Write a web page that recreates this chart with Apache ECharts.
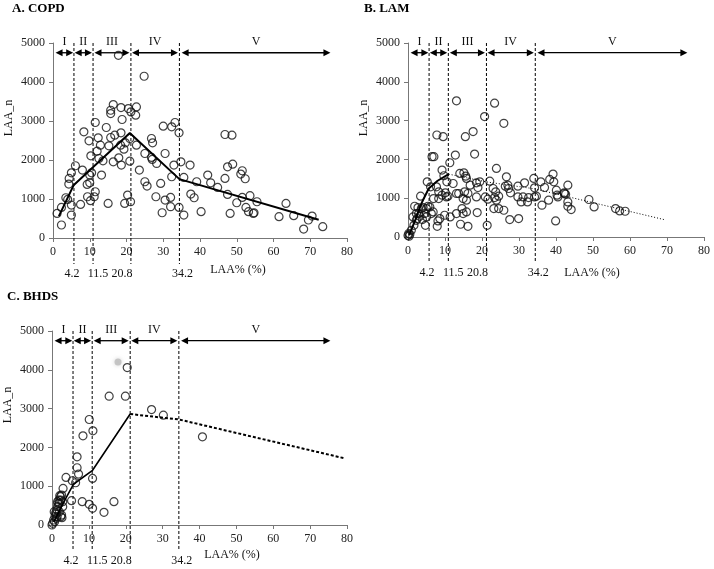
<!DOCTYPE html>
<html><head><meta charset="utf-8">
<script src="https://cdn.jsdelivr.net/npm/echarts@6/dist/echarts.min.js"></script>
<style>html,body{margin:0;padding:0;background:#fff}#c{width:714px;height:569px}</style>
</head><body><div id="c"></div>
<script>
// ---------- data ----------
const panelTitles = ['A. COPD', 'B. LAM', 'C. BHDS'];
const xTickMax = 80, xTickStep = 10;
const yTickMax = 5000, yTickStep = 1000;
const xAxisTitle = 'LAA% (%)';
const yAxisTitle = 'LAA_n';

const cutLineX = [5.7, 10.9, 21.2, 34.4];
const cutLabels = ['4.2', '11.5', '20.8', '34.2'];
const zoneNames = ['I', 'II', 'III', 'IV', 'V'];
const zoneStart = [0.7, 5.9, 11.3, 21.5, 35.0];
const zoneEnd = [5.5, 10.6, 20.8, 34.0, 75.5];
const zoneArrowY = 4750;

const copdPoints = [
 [1.1,631],[2.3,785],[2.3,333],[3.5,1032],[4.0,990],[4.3,1382],[4.4,1527],[5.0,1672],[5.0,845],[5.0,589],
 [6.1,1852],[7.5,862],[8.0,1741],[8.4,2722],[9.3,1374],[9.4,1058],[9.8,2491],[10.0,1416],[10.0,1613],[10.3,2108],
 [10.2,956],[10.5,1672],[11.2,1058],[11.5,1186],[11.5,2961],[12.0,2227],[12.3,2568],[12.5,2039],[12.9,2381],[13.2,1613],
 [13.6,1980],[14.5,2833],[15.0,887],[15.2,2364],[15.7,3276],[15.7,3191],[15.7,2577],[16.4,1954],[16.4,3422],[16.8,2637],
 [17.8,4684],[17.9,2056],[18.4,2381],[18.5,2696],[18.5,3345],[18.6,1869],[18.8,3038],[19.3,2278],[19.5,887],[19.7,2440],
 [20.3,1101],[20.5,3319],[20.9,2551],[20.9,1971],[21.1,930],[21.2,3234],[22.5,3149],[22.7,3362],[22.7,2381],[23.5,1741],
 [24.8,4147],[25.0,2167],[25.0,1442],[25.6,1331],[26.8,2551],[27.1,2440],[26.8,2065],[27.0,2014],[28.0,1058],[28.2,1911],
 [29.3,1399],[29.7,648],[30.0,2867],[30.5,2167],[30.5,973],[32.0,1041],[32.3,2850],[32.3,1570],[32.9,1869],[33.2,2961],
 [32.0,802],[34.3,2696],[34.3,785],[34.8,1954],[35.6,1553],[35.6,589],[37.3,1869],[37.5,1126],[38.4,1032],[39.1,1442],
 [40.3,674],[42.1,1613],[42.9,1416],[44.8,1297],[46.8,1527],[46.8,2654],[47.5,1826],[47.5,1118],[48.2,631],[48.7,2637],
 [48.9,1894],[50.0,904],[51.1,1638],[51.5,1724],[51.5,1041],[52.3,1519],[52.5,785],[53.2,674],[53.6,1084],[54.5,631],
 [54.7,648],[55.5,930],[61.5,546],[63.4,887],[65.5,572],[68.2,230],[69.5,461],[70.5,563],[73.4,290]
];
const copdFit = [[1.6,560],[5.6,1350],[20.9,2690],[34.4,1510],[72.3,470]];

const lamPoints = [
 [0,40],[0.3,20],[0.5,70],[0.2,90],[0.9,172],[1.35,517],[1.6,302],[1.8,793],[2.25,431],[2.25,603],[2.5,474],[2.7,759],
 [2.9,603],[3.2,534],[3.4,1052],[3.6,733],[3.9,448],[4.1,759],[4.5,603],[4.7,302],[5.0,517],[5.0,733],[5.2,1422],
 [5.4,793],[5.9,776],[6.1,1293],[6.3,603],[6.5,2069],[7.0,2069],[6.8,647],[6.9,991],[7.7,1293],[7.8,2629],[7.9,276],
 [8.1,414],[8.3,1164],[8.3,991],[8.6,474],[9.2,1724],[9.2,1078],[9.5,2586],[9.7,1578],[9.9,560],[10.1,1138],[10.4,1034],
 [10.5,1422],[10.8,1052],[11.3,1914],[11.4,517],[12.2,1379],[12.8,2112],[13.1,3509],[13.1,1121],[13.1,603],[13.7,1121],
 [14.0,1638],[14.2,328],[14.6,733],[14.9,603],[14.9,991],[15.1,1655],[15.3,1164],[15.5,2586],[15.6,1569],[15.8,1509],
 [15.8,647],[15.8,948],[16.2,276],[16.2,1121],[16.8,1336],[17.6,2716],[18.0,2138],[18.5,1397],[18.5,1034],[18.7,629],
 [18.9,1276],[19.4,1422],[20.7,3103],[20.9,1034],[21.4,302],[21.6,974],[22.1,1440],[23.0,1250],[23.4,3448],[23.2,733],
 [23.4,1017],[23.7,1164],[23.9,1767],[23.9,948],[24.5,1052],[24.5,733],[25.9,690],[25.9,2931],[26.3,1310],[26.6,1552],
 [27.0,1336],[27.2,1250],[27.5,448],[27.7,1138],[29.7,1034],[29.7,1310],[29.9,474],[30.6,905],[31.1,1034],[31.5,1397],
 [32.3,905],[32.6,1017],[34.0,1509],[34.2,1034],[34.2,1267],[34.7,1052],[35.9,1422],[36.2,819],[36.9,1276],[38.0,948],
 [38.3,1483],[39.2,1621],[39.4,1422],[39.9,414],[40.1,1207],[40.3,1078],[40.5,1034],[42.2,1138],[42.3,1121],[42.6,1103],
 [43.2,1336],[43.2,905],[43.2,793],[44.1,707],[48.9,966],[50.3,776],[56.1,733],[57.2,672],[58.7,664]
];
const lamFitSolid = [[0.3,40],[2,450],[3.6,860],[5.6,1250],[8,1450],[11,1620]];
const lamFitDotted = [[11,1620],[21.2,1420],[34.3,1240],[69.6,440]];

const bhdsPoints = [
 [0,0],[0.2,43],[0.45,129],[0.8,214],[1.1,283],[0.6,343],[1.4,386],[1.5,472],[2.0,557],[2.4,643],[2.3,729],[2.6,772],
 [2.9,600],[1.5,600],[1.4,214],[2.4,214],[2.9,472],[2.0,343],[2.1,755],[1.9,643],[1.6,557],[1.0,317],[2.6,257],[2.7,189],
 [0.7,86],[1.2,172],[3.0,943],[3.8,1226],[5.5,1141],[6.4,1089],[6.8,1758],[6.8,1475],[7.2,1312],[5.3,626],[8.2,600],
 [8.4,2298],[10.1,2719],[11.1,2427],[11.0,1201],[10.1,532],[11.0,429],[14.1,326],[16.8,600],[15.5,3319],[19.9,3319],
 [20.4,4057],[27.0,2976],[30.2,2830],[40.8,2273]
];
const bhdsGrey = [[17.9,4200]];
const bhdsFitSolid = [[0.5,80],[3,560],[5.8,1050],[11,1410],[21.2,2860]];
const bhdsFitDotted = [[21.2,2860],[34.4,2720],[79.5,1715]];

// ---------- layout ----------
const grids = [
  {left: 53, top: 43, width: 294, height: 195},
  {left: 408, top: 43, width: 296, height: 194},
  {left: 52, top: 331, width: 295, height: 194}
];
const cutLabelShift = [-2, 5, -9, 3];
const FONT = 'Liberation Serif';

function cutRender(params, api) {
  const i = api.value(1);
  const x = api.value(0);
  const t = api.coord([x, yTickMax]);
  const b = api.coord([x, 0]);
  return {type: 'group', children: [
    {type: 'line', shape: {x1: t[0], y1: t[1], x2: b[0], y2: b[1] + 26},
     style: {stroke: '#000', lineWidth: 1, lineDash: [3, 2]}},
    {type: 'text', x: b[0] + cutLabelShift[i], y: b[1] + 36,
     style: {text: cutLabels[i], align: 'center', verticalAlign: 'middle', fontFamily: FONT, fontSize: 12, fill: '#111'}}
  ]};
}
function zoneRender(params, api) {
  const i = params.dataIndex;
  const a = api.coord([zoneStart[i], zoneArrowY]);
  const b = api.coord([zoneEnd[i], zoneArrowY]);
  const m = api.coord([(zoneStart[i] + zoneEnd[i]) / 2, yTickMax]);
  const h = 7, w = 3.5, y = a[1];
  return {type: 'group', children: [
    {type: 'line', shape: {x1: a[0] + 3, y1: y, x2: b[0] - 3, y2: y}, style: {stroke: '#000', lineWidth: 1.3}},
    {type: 'polygon', shape: {points: [[a[0], y], [a[0] + h, y - w], [a[0] + h, y + w]]}, style: {fill: '#000'}},
    {type: 'polygon', shape: {points: [[b[0], y], [b[0] - h, y - w], [b[0] - h, y + w]]}, style: {fill: '#000'}},
    {type: 'text', x: m[0], y: m[1] - 1,
     style: {text: zoneNames[i], align: 'center', verticalAlign: 'middle', fontFamily: FONT, fontSize: 12, fill: '#111'}}
  ]};
}

const axisLabel = {fontFamily: FONT, fontSize: 12, color: '#222', formatter: v => String(v)};
const xAxes = grids.map((g, k) => ({
  type: 'value', gridIndex: k, min: 0, max: xTickMax, interval: xTickStep,
  axisLine: {show: true, onZero: false, lineStyle: {color: '#777', width: 1}},
  axisTick: {show: true, length: 4, lineStyle: {color: '#777'}},
  splitLine: {show: false}, axisLabel: Object.assign({margin: 8}, axisLabel)
}));
const yAxes = grids.map((g, k) => ({
  type: 'value', gridIndex: k, min: 0, max: yTickMax, interval: yTickStep,
  axisLine: {show: true, lineStyle: {color: '#777', width: 1}},
  axisTick: {show: true, length: 4, lineStyle: {color: '#777'}},
  splitLine: {show: false}, axisLabel: Object.assign({margin: 8}, axisLabel)
}));

const circleStyle = {color: 'rgba(0,0,0,0)', borderColor: '#111', borderWidth: 1.2};
function scatter(k, data) {
  return {type: 'scatter', xAxisIndex: k, yAxisIndex: k, data: data, symbol: 'circle', symbolSize: 8,
          itemStyle: circleStyle, silent: true, z: 3};
}
function line(k, data, width, dash) {
  return {type: 'line', xAxisIndex: k, yAxisIndex: k, data: data, symbol: 'none', smooth: false, silent: true, z: 4,
          lineStyle: {color: '#000', width: width, type: dash || 'solid'}};
}
function annotations(k) {
  return [
    {type: 'custom', xAxisIndex: k, yAxisIndex: k, renderItem: cutRender, clip: false, silent: true, z: 2,
     data: cutLineX.map((x, i) => [x, i])},
    {type: 'custom', xAxisIndex: k, yAxisIndex: k, renderItem: zoneRender, clip: false, silent: true, z: 2,
     data: zoneStart.map((s, i) => [s, zoneArrowY])}
  ];
}

const series = [
  ...annotations(0), ...annotations(1), ...annotations(2),
  scatter(0, copdPoints), line(0, copdFit, 2),
  scatter(1, lamPoints), line(1, lamFitSolid, 2), line(1, lamFitDotted, 1, [1, 2]),
  {type: 'scatter', xAxisIndex: 2, yAxisIndex: 2, data: bhdsGrey, symbol: 'circle', symbolSize: 7, silent: true,
   itemStyle: {color: '#bbb', shadowBlur: 4, shadowColor: '#ccc'}},
  scatter(2, bhdsPoints), line(2, bhdsFitSolid, 1.6), line(2, bhdsFitDotted, 2, [3, 2])
];

const titleStyle = {fontFamily: FONT, fontSize: 13, fontWeight: 'bold', color: '#000'};
const titles = [
  {text: panelTitles[0], left: 12, top: 2, padding: 0, textStyle: titleStyle},
  {text: panelTitles[1], left: 364, top: 2, padding: 0, textStyle: titleStyle},
  {text: panelTitles[2], left: 7, top: 290, padding: 0, textStyle: titleStyle}
];
const gtext = (x, y, text, rot) => ({type: 'text', x: x, y: y, rotation: rot || 0,
  style: {text: text, align: 'center', verticalAlign: 'middle', fontFamily: FONT, fontSize: 12, fill: '#111'}});

const chart = echarts.init(document.getElementById('c'), null, {renderer: 'canvas'});
chart.setOption({
  animation: false,
  backgroundColor: '#fff',
  title: titles,
  grid: grids,
  xAxis: xAxes,
  yAxis: yAxes,
  series: series,
  graphic: [
    gtext(9, 118, yAxisTitle, Math.PI / 2),
    gtext(364, 118, yAxisTitle, Math.PI / 2),
    gtext(8, 405, yAxisTitle, Math.PI / 2),
    gtext(238, 270, xAxisTitle),
    gtext(592, 273, xAxisTitle),
    gtext(232, 555, xAxisTitle)
  ]
});
</script></body></html>
